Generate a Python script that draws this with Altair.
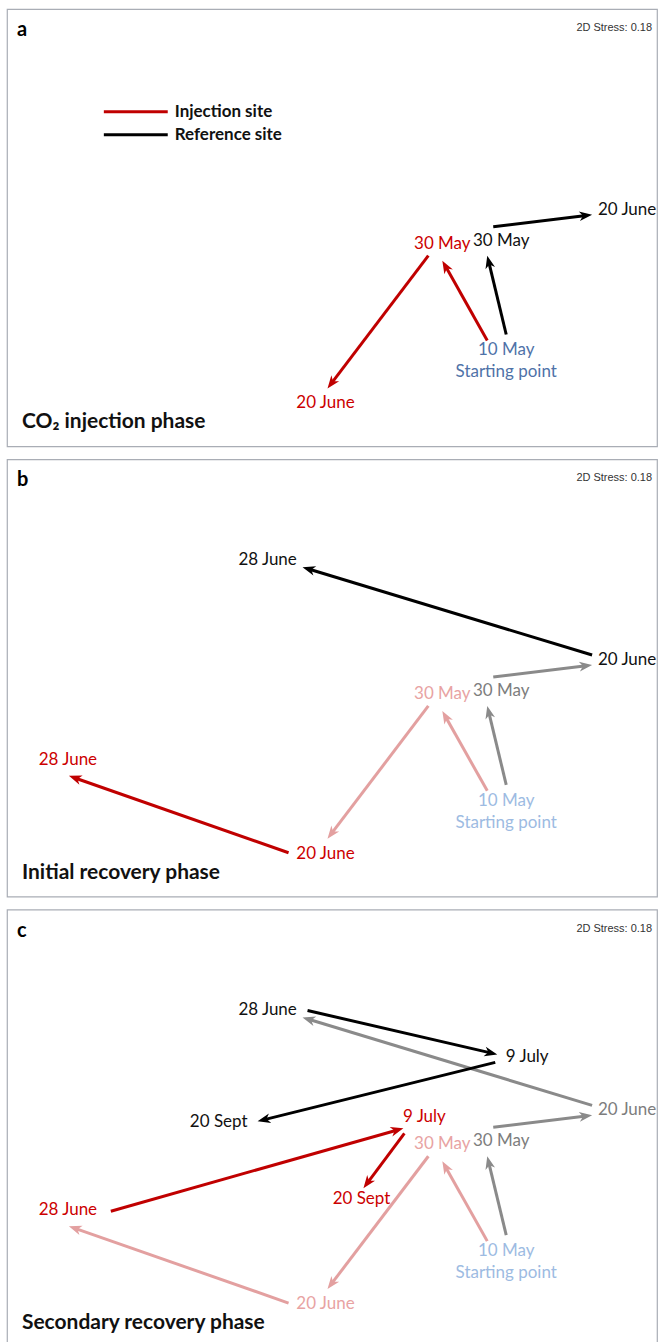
import math

import altair as alt
import pandas as pd

# ---------------------------------------------------------------------------
# NMDS ordination of the two sites, one panel per experimental phase
# ---------------------------------------------------------------------------

# Sampling-date labels at their NMDS coordinates
label_site = ["Start", "Injection", "Reference", "Reference", "Injection", "Reference",
              "Injection", "Reference", "Reference", "Injection", "Injection"]
label_date = ["10 May", "30 May", "30 May", "20 June", "20 June", "28 June",
              "28 June", "9 July", "20 Sept", "9 July", "20 Sept"]
label_text = ["10 May\nStarting point", "30 May", "30 May", "20 June", "20 June", "28 June",
              "28 June", "9 July", "20 Sept", "9 July", "20 Sept"]
label_x = [0.870, 0.550, 0.845, 1.475, -0.035, -0.325, -1.325, 0.975, -0.570, 0.460, 0.145]
label_y = [-0.615, -0.080, -0.065, 0.090, -0.880, 0.590, -0.410, 0.355, 0.030, 0.055, -0.355]

# Trajectory steps between consecutive samplings (phase 0 = injection,
# 1 = initial recovery, 2 = secondary recovery)
step_site = ["Injection", "Reference", "Injection", "Reference", "Reference", "Injection",
             "Reference", "Reference", "Injection", "Injection"]
step_from = ["10 May", "10 May", "30 May", "30 May", "20 June", "20 June",
             "28 June", "9 July", "28 June", "9 July"]
step_to = ["30 May", "30 May", "20 June", "20 June", "28 June", "28 June",
           "9 July", "20 Sept", "9 July", "20 Sept"]
step_phase = [0, 0, 0, 0, 1, 1, 2, 2, 2, 2]
step_x0 = [0.775, 0.870, 0.480, 0.805, 1.300, -0.220, -0.125, 0.815, -1.110, 0.360]
step_y0 = [-0.565, -0.535, -0.140, 0.005, 0.115, -0.875, 0.590, 0.330, -0.415, -0.025]
step_x1 = [0.550, 0.775, -0.025, 1.300, -0.150, -1.320, 0.825, -0.375, 0.355, 0.155]
step_y1 = [-0.165, -0.140, -0.805, 0.065, 0.555, -0.490, 0.370, 0.035, 0.000, -0.300]

# Legend entries
legend_site = ["Injection", "Reference"]
legend_text = ["Injection site", "Reference site"]
legend_y = [0.580, 0.465]
legend_x0, legend_x1, legend_tx = -1.145, -0.825, -0.790

panel_letter = ["a", "b", "c"]
panel_title = ["CO\u2082 injection phase", "Initial recovery phase", "Secondary recovery phase"]
stress_text = "2D Stress: 0.18"

# (current, earlier-phase) colours
ARROW_COL = {"Injection": ("#c00000", "#e3a0a0"), "Reference": ("#000000", "#8a8a8a")}
TEXT_COL = {"Injection": ("#cc0000", "#e8a3a3"), "Reference": ("#111111", "#7d7d7d"),
            "Start": ("#4f72a8", "#9dbbe2")}

FONT = "Lato"
W, H = 651, 438
X_DOM = [-1.63, 1.625]
Y_DOM = [-1.095, 1.095]
xs = alt.Scale(domain=X_DOM, nice=False, zero=False)
ys = alt.Scale(domain=Y_DOM, nice=False, zero=False)

ARROW_PATH = "M0,0L0.8,2.1L0,1.5L-0.8,2.1Z"

steps = pd.DataFrame({
    "site": step_site, "from": step_from, "to": step_to, "phase": step_phase,
    "x0": step_x0, "y0": step_y0, "x1": step_x1, "y1": step_y1,
})
labels = pd.DataFrame({
    "site": label_site, "date": label_date, "text": label_text,
    "x": label_x, "y": label_y,
})


def key_from(row):
    site = "Start" if row["from"] == "10 May" else row["site"]
    return (site, row["from"])


def panel(p):
    s = steps[steps["phase"] <= p].copy()
    s["active"] = s["phase"] == p
    dx = s["x1"] - s["x0"]
    dy = s["y1"] - s["y0"]
    length = (dx ** 2 + dy ** 2) ** 0.5
    # stop the shaft inside the arrowhead
    s["ex"] = s["x1"] - dx / length * 0.04
    s["ey"] = s["y1"] - dy / length * 0.04
    s["angle"] = [math.degrees(math.atan2(a, b)) % 360 for a, b in zip(dx, dy)]
    s["col"] = [ARROW_COL[site][0 if act else 1] for site, act in zip(s["site"], s["active"])]
    s = s.sort_values("active", kind="stable")

    shown, current = set(), set()
    for _, r in s.iterrows():
        ends = [key_from(r), (r["site"], r["to"])]
        shown.update(ends)
        if r["active"]:
            current.update(ends)
    lab = labels[[(a, b) in shown for a, b in zip(labels["site"], labels["date"])]].copy()
    lab["col"] = [TEXT_COL[a][0 if (a, b) in current else 1]
                  for a, b in zip(lab["site"], lab["date"])]

    shafts = alt.Chart(s).mark_rule(strokeWidth=3, strokeCap="butt").encode(
        x=alt.X("x0:Q", scale=xs, axis=None),
        y=alt.Y("y0:Q", scale=ys, axis=None),
        x2="ex:Q", y2="ey:Q",
        color=alt.Color("col:N", scale=None),
    )
    heads = alt.Chart(s).mark_point(shape=ARROW_PATH, filled=True, size=150,
                                    opacity=1, strokeWidth=0).encode(
        x=alt.X("x1:Q", scale=xs, axis=None),
        y=alt.Y("y1:Q", scale=ys, axis=None),
        angle=alt.Angle("angle:Q", scale=None),
        color=alt.Color("col:N", scale=None),
    )
    texts = alt.Chart(lab).mark_text(font=FONT, fontSize=17, lineBreak="\n",
                                     lineHeight=22, align="center",
                                     baseline="middle").encode(
        x=alt.X("x:Q", scale=xs, axis=None),
        y=alt.Y("y:Q", scale=ys, axis=None),
        text="text:N",
        color=alt.Color("col:N", scale=None),
    )

    ann = pd.DataFrame({"letter": [panel_letter[p]], "title": [panel_title[p]],
                        "stress": [stress_text]})
    letter = alt.Chart(ann).mark_text(font=FONT, fontSize=20, fontWeight="bold",
                                      align="left", baseline="alphabetic",
                                      color="#000000").encode(
        x=alt.value(10), y=alt.value(27), text="letter:N")
    title = alt.Chart(ann).mark_text(font=FONT, fontSize=21, fontWeight="bold",
                                     align="left", baseline="alphabetic",
                                     color="#111111").encode(
        x=alt.value(15), y=alt.value(420), text="title:N")
    stress = alt.Chart(ann).mark_text(font="Liberation Sans", fontSize=11,
                                      align="right", baseline="alphabetic",
                                      color="#333333").encode(
        x=alt.value(646), y=alt.value(22), text="stress:N")

    layers = [shafts, heads, texts, letter, title, stress]

    if p == 0:
        leg = pd.DataFrame({
            "site": legend_site, "text": legend_text, "y": legend_y,
            "x0": [legend_x0] * 2, "x1": [legend_x1] * 2, "tx": [legend_tx] * 2,
            "col": [ARROW_COL[k][0] for k in legend_site],
        })
        leg_lines = alt.Chart(leg).mark_rule(strokeWidth=3).encode(
            x=alt.X("x0:Q", scale=xs, axis=None),
            y=alt.Y("y:Q", scale=ys, axis=None),
            x2="x1:Q",
            color=alt.Color("col:N", scale=None),
        )
        leg_text = alt.Chart(leg).mark_text(font=FONT, fontSize=17, fontWeight="bold",
                                            align="left", baseline="middle",
                                            color="#111111").encode(
            x=alt.X("tx:Q", scale=xs, axis=None),
            y=alt.Y("y:Q", scale=ys, axis=None),
            text="text:N",
        )
        layers += [leg_lines, leg_text]

    return alt.layer(*layers).properties(width=W, height=H)


chart = alt.vconcat(panel(0), panel(1), panel(2), spacing=11).properties(
    padding={"left": 6, "top": 7, "right": 0, "bottom": 0},
    background="#ffffff",
).configure_view(
    stroke="#a9adb5", strokeWidth=1.2
)

chart.save("out.html", embed_options={"renderer": "svg", "actions": False})
